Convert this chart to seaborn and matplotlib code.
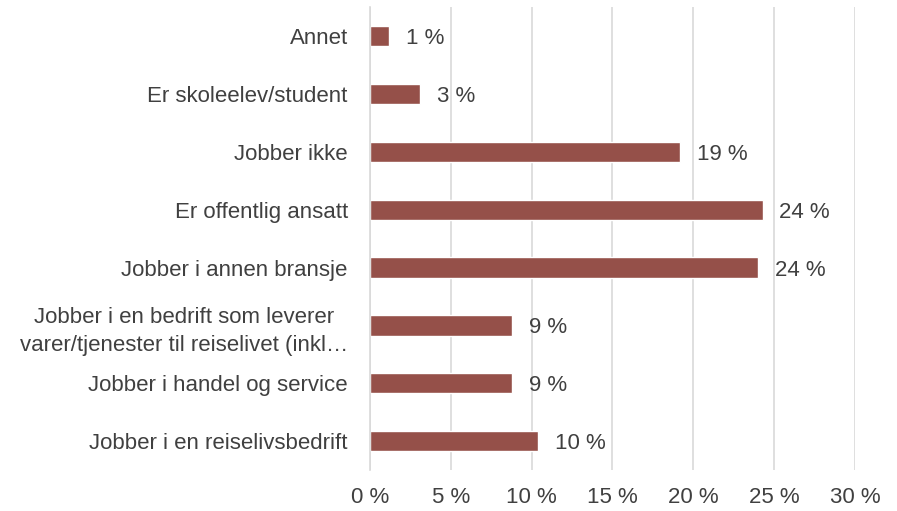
import matplotlib
matplotlib.use("Agg")
import matplotlib.pyplot as plt
import seaborn as sns
import pandas as pd

# --- data (top to bottom) ---
categories = [
    "Annet",
    "Er skoleelev/student",
    "Jobber ikke",
    "Er offentlig ansatt",
    "Jobber i annen bransje",
    "Jobber i en bedrift som leverer\nvarer/tjenester til reiselivet (inkl…",
    "Jobber i handel og service",
    "Jobber i en reiselivsbedrift",
]
shares = [1.2, 3.1, 19.2, 24.3, 24.0, 8.8, 8.8, 10.4]
value_labels = ["1 %", "3 %", "19 %", "24 %", "24 %", "9 %", "9 %", "10 %"]
x_ticks = [0, 5, 10, 15, 20, 25, 30]

df = pd.DataFrame({"category": categories, "share": shares})

sns.set_theme(style="white")
plt.rcParams["font.family"] = ["Liberation Sans", "DejaVu Sans"]

text_col = "#404040"
grid_col = "#d9d9d9"
bar_col = "#955049"
fs = 16

fig = plt.figure(figsize=(8.97, 5.11), dpi=100)
ax = fig.add_axes([0.4125, 0.08, 0.5405, 0.906])

sns.barplot(data=df, x="share", y="category", orient="h", color=bar_col,
            width=0.35, saturation=1, ax=ax)

# value labels next to the bars
for i, (v, lab) in enumerate(zip(shares, value_labels)):
    ax.annotate(lab, xy=(v, i), xytext=(12, 0), textcoords="offset points",
                va="center_baseline", ha="left", fontsize=fs, color=text_col)

ax.set_xlim(0, 30)
ax.set_ylim(len(categories) - 0.5, -0.5)
ax.set_xticks(x_ticks)
ax.set_xticklabels([f"{t} %" for t in x_ticks])
ax.set_xlabel("")
ax.set_ylabel("")

ax.xaxis.grid(True, color=grid_col, linewidth=1.2)
ax.set_axisbelow(True)
for side in ["top", "right", "bottom"]:
    ax.spines[side].set_visible(False)
ax.spines["left"].set_color(grid_col)
ax.spines["left"].set_linewidth(1.2)

ax.tick_params(axis="both", length=0, labelsize=fs, labelcolor=text_col)
ax.tick_params(axis="y", pad=16)
ax.tick_params(axis="x", pad=12)
for t in ax.get_yticklabels():
    t.set_linespacing(1.45)
    t.set_multialignment("center")

fig.savefig("out.png", dpi=100)
